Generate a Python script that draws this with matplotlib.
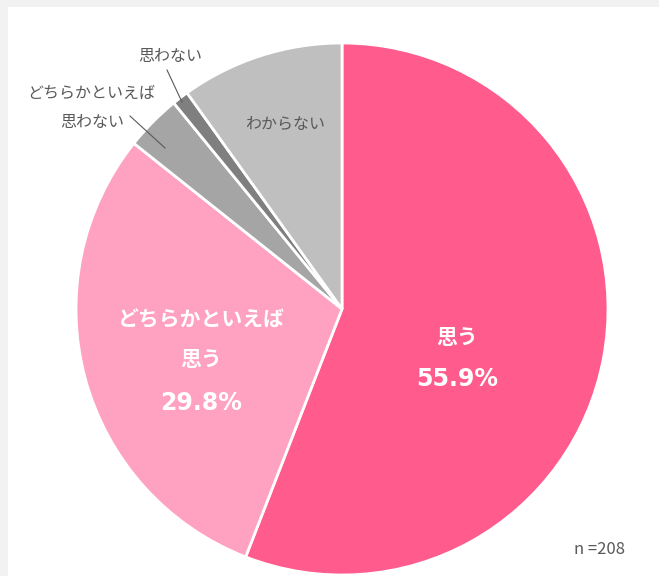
import matplotlib.pyplot as plt
from matplotlib.patches import Rectangle

plt.rcParams['font.family'] = ['Noto Sans CJK JP', 'DejaVu Sans']

# data
labels = ['思う', 'どちらかといえば\n思う', 'どちらかといえば\n思わない', '思わない', 'わからない']
values = [55.9, 29.8, 3.4, 1.0, 9.9]
colors = ['#ff5b8d', '#ffa1c1', '#a5a5a5', '#7f7f7f', '#bfbfbf']
n_text = 'n =208'

W, H = 659, 576
fig = plt.figure(figsize=(W / 100, H / 100), dpi=100, facecolor='#f2f2f2')
ax = fig.add_axes([0, 0, 1, 1])

# white panel
ax.add_patch(Rectangle((8, 0), W - 8, H - 7, facecolor='white', edgecolor='none', zorder=0))

cx, cy, r = 342, H - 309, 266
wedges, _ = ax.pie(values, colors=colors, startangle=90, counterclock=False,
                   center=(cx, cy), radius=r, frame=True,
                   wedgeprops=dict(edgecolor='white', linewidth=2))
ax.set_xlim(0, W)
ax.set_ylim(0, H)
ax.set_aspect('equal')
ax.axis('off')

# inside labels
inner = dict(color='white', fontsize=15, fontweight='bold', ha='center', va='center')
pct = dict(color='white', fontsize=17, fontweight='bold', ha='center', va='center',
           family='DejaVu Sans')
ax.text(457, H - 337, labels[0], **inner)
ax.text(457, H - 379, f'{values[0]}%', **pct)
ax.text(201, H - 320, labels[1].split('\n')[0], **inner)
ax.text(201, H - 360, labels[1].split('\n')[1], **inner)
ax.text(201, H - 403, f'{values[1]}%', **pct)
ax.text(285, H - 124, labels[4], color='#595959', fontsize=11.5, ha='center', va='center')

# outside labels with leader lines
gray = '#595959'
ax.text(170, H - 57, labels[3], color=gray, fontsize=11.5, ha='center', va='center')
ax.plot([167, 182], [H - 70, H - 102], color=gray, lw=0.8)
ax.text(91, H - 93, labels[2].split('\n')[0], color=gray, fontsize=11.5, ha='center', va='center')
ax.text(92, H - 123, labels[2].split('\n')[1], color=gray, fontsize=11.5, ha='center', va='center')
ax.plot([130, 165], [H - 116, H - 148], color=gray, lw=0.8)

ax.text(600, H - 549, n_text, color=gray, fontsize=12, ha='center', va='center')

fig.savefig('out.png', dpi=100, facecolor=fig.get_facecolor())
